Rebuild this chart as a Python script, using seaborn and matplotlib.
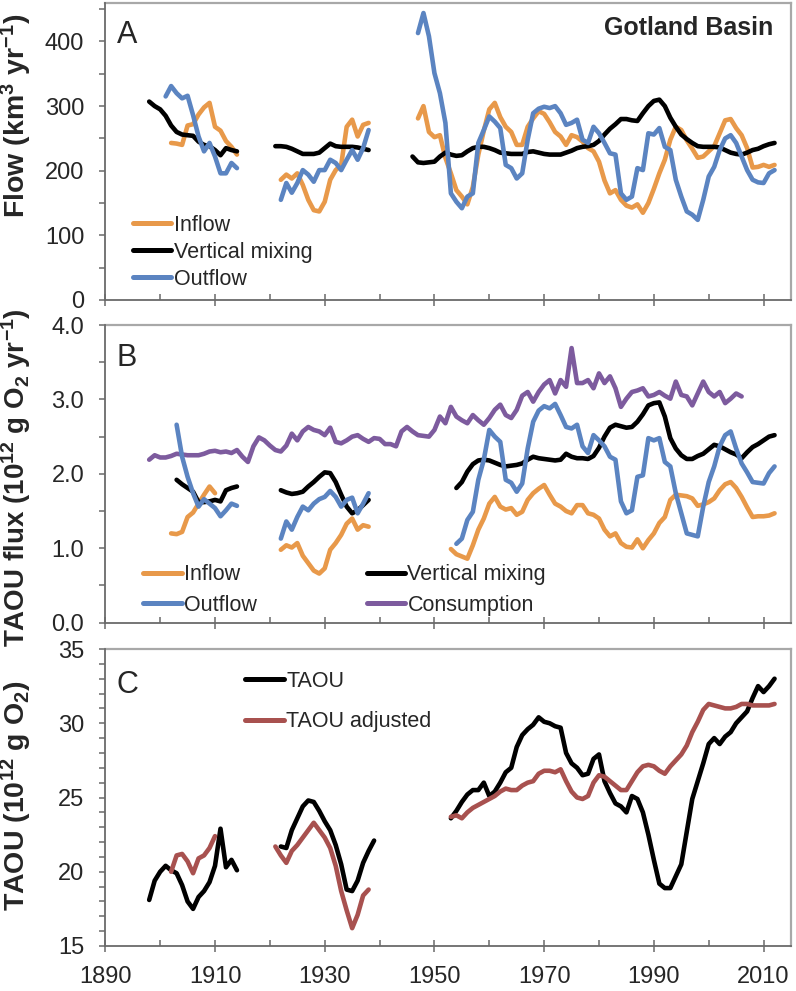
import numpy as np
import pandas as pd
import matplotlib
matplotlib.use("Agg")
import matplotlib.pyplot as plt
import seaborn as sns
from matplotlib.lines import Line2D
from matplotlib.ticker import MultipleLocator, FixedLocator, FormatStrFormatter

# ---------------- data ----------------
# Panel A : flow (km3 / yr)
a_inflow_1_start = 1902
a_inflow_1 = [243, 242, 240, 270, 272, 287, 298, 305, 268, 262, 246, 237, 225]
a_inflow_2_start = 1922
a_inflow_2 = [186, 194, 188, 196, 178, 155, 139, 137, 152, 186, 201, 209, 268, 279, 253, 271, 274]
a_inflow_3_start = 1947
a_inflow_3 = [281, 300, 260, 252, 255, 220, 196, 170, 160, 148,
              175, 225, 262, 295, 305, 283, 268, 260, 240, 240,
              268, 281, 292, 288, 275, 260, 253, 240, 255, 252,
              245, 235, 230, 214, 185, 165, 170, 155, 146, 143,
              148, 135, 150, 172, 196, 217, 248, 268, 263, 247,
              234, 220, 222, 230, 238, 258, 278, 280, 266, 255,
              235, 205, 206, 209, 206, 209]

a_mixing_1_start = 1898
a_mixing_1 = [307, 300, 295, 285, 270, 260, 256, 255, 254, 245, 240, 238, 232, 224, 235, 232, 230]
a_mixing_2_start = 1921
a_mixing_2 = [238, 238, 237, 234, 230, 226, 226, 226, 228, 235, 242, 238, 237, 237, 237, 236, 234, 232]
a_mixing_3_start = 1946
a_mixing_3 = [222, 213, 212, 213, 214, 222, 228, 225, 223, 224,
              230, 235, 237, 237, 235, 232, 228, 227, 226, 226,
              226, 229, 230, 228, 226, 225, 225, 225, 228, 231,
              235, 237, 238, 240, 246, 256, 265, 272, 280, 280,
              278, 277, 289, 300, 308, 310, 300, 282, 268, 256,
              249, 243, 238, 237, 237, 237, 236, 232, 228, 226,
              225, 228, 232, 234, 238, 241, 243]

a_outflow_1_start = 1901
a_outflow_1 = [315, 331, 320, 312, 316, 286, 253, 230, 243, 222, 196, 196, 212, 204]
a_outflow_2_start = 1922
a_outflow_2 = [155, 181, 166, 181, 201, 194, 183, 201, 201, 217, 212, 201, 217, 232, 217, 235, 263]
a_outflow_3_start = 1947
a_outflow_3 = [413, 444, 408, 351, 320, 274, 165, 152, 142, 160,
               165, 243, 263, 284, 276, 266, 209, 204, 188, 196,
               248, 289, 296, 299, 297, 300, 289, 271, 274, 279,
               248, 243, 268, 258, 243, 227, 225, 165, 155, 160,
               204, 201, 258, 256, 266, 237, 232, 186, 160, 137,
               132, 124, 155, 191, 206, 232, 250, 255, 243, 222,
               201, 186, 182, 181, 196, 201]

# Panel B : TAOU flux (10^12 g O2 / yr)
b_inflow_1_start = 1902
b_inflow_1 = [1.20, 1.19, 1.22, 1.42, 1.48, 1.60, 1.72, 1.83, 1.74]
b_inflow_2_start = 1922
b_inflow_2 = [0.98, 1.04, 1.01, 1.07, 0.90, 0.80, 0.70, 0.66, 0.73, 0.98, 1.07, 1.18, 1.33, 1.40, 1.25, 1.31, 1.29]
b_inflow_3_start = 1953
b_inflow_3 = [0.99, 0.92, 0.89, 0.86, 1.04, 1.25, 1.40, 1.60, 1.69, 1.56,
              1.52, 1.54, 1.45, 1.49, 1.65, 1.74, 1.80, 1.85, 1.72, 1.60,
              1.56, 1.50, 1.47, 1.58, 1.58, 1.47, 1.45, 1.40, 1.25, 1.16,
              1.20, 1.07, 1.02, 1.01, 1.12, 1.00, 1.11, 1.20, 1.34, 1.42,
              1.65, 1.72, 1.71, 1.70, 1.67, 1.57, 1.59, 1.62, 1.67, 1.78,
              1.86, 1.89, 1.81, 1.69, 1.55, 1.42, 1.43, 1.43, 1.44, 1.47]

b_mixing_1_start = 1903
b_mixing_1 = [1.92, 1.86, 1.81, 1.76, 1.62, 1.62, 1.63, 1.65, 1.63, 1.78, 1.81, 1.83]
b_mixing_2_start = 1922
b_mixing_2 = [1.78, 1.75, 1.73, 1.74, 1.76, 1.83, 1.89, 1.96, 2.02, 2.01, 1.89, 1.72, 1.56, 1.47, 1.51, 1.58, 1.65]
b_mixing_3_start = 1954
b_mixing_3 = [1.81, 1.89, 2.03, 2.13, 2.18, 2.19, 2.18, 2.15, 2.12, 2.10,
              2.11, 2.12, 2.14, 2.19, 2.23, 2.21, 2.20, 2.19, 2.18, 2.19,
              2.27, 2.23, 2.21, 2.21, 2.20, 2.24, 2.35, 2.50, 2.62, 2.66,
              2.64, 2.62, 2.63, 2.70, 2.80, 2.92, 2.95, 2.96, 2.77, 2.48,
              2.34, 2.25, 2.20, 2.20, 2.24, 2.27, 2.33, 2.39, 2.37, 2.33,
              2.29, 2.26, 2.21, 2.29, 2.36, 2.40, 2.45, 2.50, 2.52]

b_outflow_1_start = 1903
b_outflow_1 = [2.66, 2.23, 1.96, 1.74, 1.56, 1.66, 1.60, 1.54, 1.43, 1.51, 1.60, 1.57]
b_outflow_2_start = 1922
b_outflow_2 = [1.13, 1.36, 1.25, 1.42, 1.56, 1.51, 1.60, 1.66, 1.69, 1.77, 1.69, 1.56, 1.65, 1.68, 1.47, 1.60, 1.74]
b_outflow_3_start = 1954
b_outflow_3 = [1.06, 1.13, 1.38, 1.49, 1.92, 2.19, 2.59, 2.50, 2.43, 1.92,
               1.88, 1.76, 1.87, 2.34, 2.70, 2.85, 2.91, 2.88, 2.94, 2.79,
               2.63, 2.61, 2.66, 2.37, 2.28, 2.52, 2.45, 2.37, 2.23, 2.19,
               1.63, 1.47, 1.51, 1.96, 1.98, 2.48, 2.45, 2.48, 2.16, 2.10,
               1.74, 1.47, 1.20, 1.18, 1.16, 1.56, 1.89, 2.10, 2.37, 2.52,
               2.57, 2.34, 2.14, 2.02, 1.89, 1.88, 1.87, 2.01, 2.10]

b_consumption_start = 1898
b_consumption = [2.19, 2.25, 2.22, 2.22, 2.24, 2.27, 2.26, 2.25, 2.25, 2.25,
                 2.27, 2.30, 2.31, 2.29, 2.30, 2.28, 2.32, 2.23, 2.16, 2.37,
                 2.49, 2.45, 2.38, 2.32, 2.30, 2.38, 2.54, 2.45, 2.57, 2.63,
                 2.59, 2.57, 2.52, 2.62, 2.43, 2.41, 2.45, 2.50, 2.52, 2.47,
                 2.43, 2.48, 2.47, 2.40, 2.40, 2.37, 2.57, 2.63, 2.57, 2.52,
                 2.51, 2.50, 2.59, 2.77, 2.68, 2.90, 2.77, 2.72, 2.68, 2.79,
                 2.72, 2.66, 2.75, 2.86, 2.93, 2.79, 2.75, 2.86, 3.05, 3.10,
                 2.97, 3.10, 3.20, 3.26, 3.08, 3.26, 3.17, 3.69, 3.22, 3.22,
                 3.26, 3.15, 3.35, 3.22, 3.31, 3.15, 2.90, 3.01, 3.10, 3.12,
                 3.15, 3.04, 3.06, 3.10, 3.05, 3.01, 3.24, 3.06, 3.04, 2.92,
                 3.08, 3.24, 3.10, 3.04, 3.10, 2.95, 3.01, 3.08, 3.04]

# Panel C : TAOU (10^12 g O2)
c_taou_1_start = 1898
c_taou_1 = [18.1, 19.4, 20.0, 20.4, 20.1, 19.9, 19.1, 18.0, 17.5, 18.3, 18.7, 19.3, 20.4, 22.9, 20.3, 20.8, 20.1]
c_taou_2_start = 1922
c_taou_2 = [21.7, 21.6, 22.8, 23.6, 24.4, 24.8, 24.7, 24.1, 23.4, 22.8, 21.8, 20.5, 18.8, 18.7, 19.4, 20.6, 21.4, 22.1]
c_taou_3_start = 1953
c_taou_3 = [23.6, 24.1, 24.7, 25.2, 25.5, 25.5, 26.0, 25.1, 25.4, 26.0,
            26.7, 27.0, 28.4, 29.2, 29.6, 29.9, 30.4, 30.1, 30.0, 29.8,
            29.7, 28.0, 27.3, 27.0, 26.5, 26.6, 27.6, 27.9, 26.1, 25.3,
            24.6, 24.4, 24.0, 25.1, 24.9, 24.0, 22.5, 20.8, 19.2, 18.9,
            18.9, 19.7, 20.5, 22.7, 24.9, 26.1, 27.3, 28.6, 29.0, 28.6,
            29.1, 29.4, 30.0, 30.4, 30.8, 31.7, 32.5, 32.1, 32.5, 33.0]

c_adj_1_start = 1902
c_adj_1 = [20.0, 21.1, 21.2, 20.7, 19.9, 20.9, 21.1, 21.6, 22.4]
c_adj_2_start = 1921
c_adj_2 = [21.7, 21.1, 20.6, 21.4, 21.8, 22.3, 22.8, 23.3, 22.8, 22.3, 21.6, 20.4, 18.7, 17.4, 16.2, 17.1, 18.4, 18.8]
c_adj_3_start = 1953
c_adj_3 = [23.7, 23.8, 23.6, 24.0, 24.3, 24.5, 24.7, 24.9, 25.1, 25.4,
           25.6, 25.5, 25.5, 25.8, 26.0, 26.1, 26.6, 26.8, 26.8, 26.7,
           26.9, 26.1, 25.4, 25.0, 24.9, 25.1, 26.0, 26.5, 26.4, 26.1,
           25.8, 25.5, 25.5, 26.1, 26.7, 27.1, 27.2, 27.1, 26.8, 26.6,
           27.1, 27.5, 27.9, 28.5, 29.4, 30.1, 30.9, 31.3, 31.2, 31.1,
           31.0, 31.0, 31.1, 31.3, 31.3, 31.2, 31.2, 31.2, 31.2, 31.3]

# x-axis tick years
x_major_years = [1890, 1910, 1930, 1950, 1970, 1990, 2010]
x_minor_years = [1900, 1920, 1940, 1960, 1980, 2000]

# ---------------- styling ----------------
sns.set_theme(style="white")
plt.rcParams["font.family"] = ["Liberation Sans", "DejaVu Sans"]
plt.rcParams["mathtext.fontset"] = "custom"
plt.rcParams["mathtext.rm"] = "Liberation Sans"
plt.rcParams["mathtext.it"] = "Liberation Sans:italic"
plt.rcParams["mathtext.bf"] = "Liberation Sans:bold"
plt.rcParams["lines.solid_joinstyle"] = "round"
plt.rcParams["lines.solid_capstyle"] = "round"

COLORS = {
    "Inflow": "#E8994A",
    "Vertical mixing": "#000000",
    "Outflow": "#5B84C1",
    "Consumption": "#7D5B9E",
    "TAOU": "#000000",
    "TAOU adjusted": "#A8514F",
}
LW = 3.3
TICK_FS = 17
LEG_FS = 15.5


def long_df(spec):
    rows = []
    for name, seg, start, vals in spec:
        for i, v in enumerate(vals):
            rows.append((name, f"{name}-{seg}", start + i, v))
    return pd.DataFrame(rows, columns=["series", "unit", "year", "value"])


W, H = 796, 991
fig = plt.figure(figsize=(W / 100, H / 100), dpi=100)
left = 105.3 / W
width = (791 - 105.3) / W
axA = fig.add_axes([left, 1 - 300 / H, width, 297.3 / H])
axB = fig.add_axes([left, 1 - 622.7 / H, width, 297.7 / H])
axC = fig.add_axes([left, 1 - 946 / H, width, 297 / H])

dfA = long_df([
    ("Inflow", 1, a_inflow_1_start, a_inflow_1),
    ("Inflow", 2, a_inflow_2_start, a_inflow_2),
    ("Inflow", 3, a_inflow_3_start, a_inflow_3),
    ("Vertical mixing", 1, a_mixing_1_start, a_mixing_1),
    ("Vertical mixing", 2, a_mixing_2_start, a_mixing_2),
    ("Vertical mixing", 3, a_mixing_3_start, a_mixing_3),
    ("Outflow", 1, a_outflow_1_start, a_outflow_1),
    ("Outflow", 2, a_outflow_2_start, a_outflow_2),
    ("Outflow", 3, a_outflow_3_start, a_outflow_3),
])
dfB = long_df([
    ("Consumption", 1, b_consumption_start, b_consumption),
    ("Inflow", 1, b_inflow_1_start, b_inflow_1),
    ("Inflow", 2, b_inflow_2_start, b_inflow_2),
    ("Inflow", 3, b_inflow_3_start, b_inflow_3),
    ("Vertical mixing", 1, b_mixing_1_start, b_mixing_1),
    ("Vertical mixing", 2, b_mixing_2_start, b_mixing_2),
    ("Vertical mixing", 3, b_mixing_3_start, b_mixing_3),
    ("Outflow", 1, b_outflow_1_start, b_outflow_1),
    ("Outflow", 2, b_outflow_2_start, b_outflow_2),
    ("Outflow", 3, b_outflow_3_start, b_outflow_3),
])
dfC = long_df([
    ("TAOU", 1, c_taou_1_start, c_taou_1),
    ("TAOU", 2, c_taou_2_start, c_taou_2),
    ("TAOU", 3, c_taou_3_start, c_taou_3),
    ("TAOU adjusted", 1, c_adj_1_start, c_adj_1),
    ("TAOU adjusted", 2, c_adj_2_start, c_adj_2),
    ("TAOU adjusted", 3, c_adj_3_start, c_adj_3),
])

for ax, df, order in [
    (axA, dfA, ["Inflow", "Vertical mixing", "Outflow"]),
    (axB, dfB, ["Consumption", "Inflow", "Vertical mixing", "Outflow"]),
    (axC, dfC, ["TAOU", "TAOU adjusted"]),
]:
    sns.lineplot(data=df, x="year", y="value", hue="series", hue_order=order,
                 palette=COLORS, units="unit", estimator=None, sort=False,
                 linewidth=LW, legend=False, ax=ax)

# axes styling
for ax in (axA, axB, axC):
    ax.set_xlim(1890, 2015)
    ax.set_xlabel("")
    ax.set_ylabel("")
    ax.xaxis.set_major_locator(FixedLocator(x_major_years))
    ax.xaxis.set_minor_locator(FixedLocator(x_minor_years))
    ax.tick_params(axis="x", which="major", direction="inout", length=8.6, width=1.1,
                   color="#6a6a6a", labelsize=TICK_FS, pad=10, bottom=True)
    ax.tick_params(axis="x", which="minor", direction="in", length=4.3, width=1.1,
                   color="#6a6a6a", bottom=True)
    ax.tick_params(axis="y", which="both", direction="out", length=4.3, width=1.1,
                   color="#6a6a6a", labelsize=TICK_FS, pad=10.8, left=True)
    for s in ("left", "bottom"):
        ax.spines[s].set_color("#6a6a6a")
        ax.spines[s].set_linewidth(1.3)
        ax.spines[s].set_zorder(5)
    for s in ("top", "right"):
        ax.spines[s].set_color("#a8a8a8")
        ax.spines[s].set_linewidth(1.6)
    ax.grid(False)
    ax.set_facecolor("white")

axA.tick_params(axis="x", labelbottom=False)
axB.tick_params(axis="x", labelbottom=False)

axA.set_ylim(0, 460)
axA.yaxis.set_major_locator(MultipleLocator(100))
axA.yaxis.set_minor_locator(MultipleLocator(50))

axB.set_ylim(0, 4.0)
axB.yaxis.set_major_locator(MultipleLocator(1.0))
axB.yaxis.set_minor_locator(MultipleLocator(0.5))
axB.yaxis.set_major_formatter(FormatStrFormatter("%.1f"))

axC.set_ylim(15, 35)
axC.yaxis.set_major_locator(MultipleLocator(5))
axC.yaxis.set_minor_locator(MultipleLocator(1))

# panel letters and title
axA.text(0.017, 0.942, "A", transform=axA.transAxes, fontsize=22, va="top", ha="left")
axB.text(0.017, 0.9395, "B", transform=axB.transAxes, fontsize=22, va="top", ha="left")
axC.text(0.017, 0.929, "C", transform=axC.transAxes, fontsize=22, va="top", ha="left")
axA.text(0.974, 0.955, "Gotland Basin", transform=axA.transAxes, fontsize=18,
         fontweight="bold", va="top", ha="right")

# y labels
YL_FS = 20.5
fig.text(16 / W, 1 - 115.5 / H, r"$\mathbf{Flow\ (km^{3}\ yr^{-1})}$", rotation=90,
         ha="center", va="center", fontsize=YL_FS)
fig.text(16.5 / W, 1 - 478 / H, r"$\mathbf{TAOU\ flux\ (10^{12}\ g\ O_{2}\ yr^{-1})}$",
         rotation=90, ha="center", va="center", fontsize=20)
fig.text(16.5 / W, 1 - 796 / H, r"$\mathbf{TAOU\ (10^{12}\ g\ O_{2})}$", rotation=90,
         ha="center", va="center", fontsize=YL_FS)


def handles(names):
    return [Line2D([], [], color=COLORS[n], lw=LW + 0.3, solid_capstyle="round") for n in names]


legA_names = ["Inflow", "Vertical mixing", "Outflow"]
axA.legend(handles(legA_names), legA_names, loc="upper left", bbox_to_anchor=(0.040, 0.287),
           frameon=False, fontsize=LEG_FS, handlelength=1.8, handletextpad=0.1,
           labelspacing=0.28, borderpad=0, borderaxespad=0)

legB_names = ["Inflow", "Outflow", "Vertical mixing", "Consumption"]
axB.legend(handles(legB_names), legB_names, loc="upper left", bbox_to_anchor=(0.055, 0.197),
           ncol=2, frameon=False, fontsize=LEG_FS, handlelength=1.8, handletextpad=0.1,
           labelspacing=0.45, columnspacing=5.1, borderpad=0, borderaxespad=0)

legC_names = ["TAOU", "TAOU adjusted"]
axC.legend(handles(legC_names), legC_names, loc="upper left", bbox_to_anchor=(0.204, 0.927),
           frameon=False, fontsize=LEG_FS, handlelength=1.8, handletextpad=0.1,
           labelspacing=0.9, borderpad=0, borderaxespad=0)

fig.savefig("out.png", dpi=100)
